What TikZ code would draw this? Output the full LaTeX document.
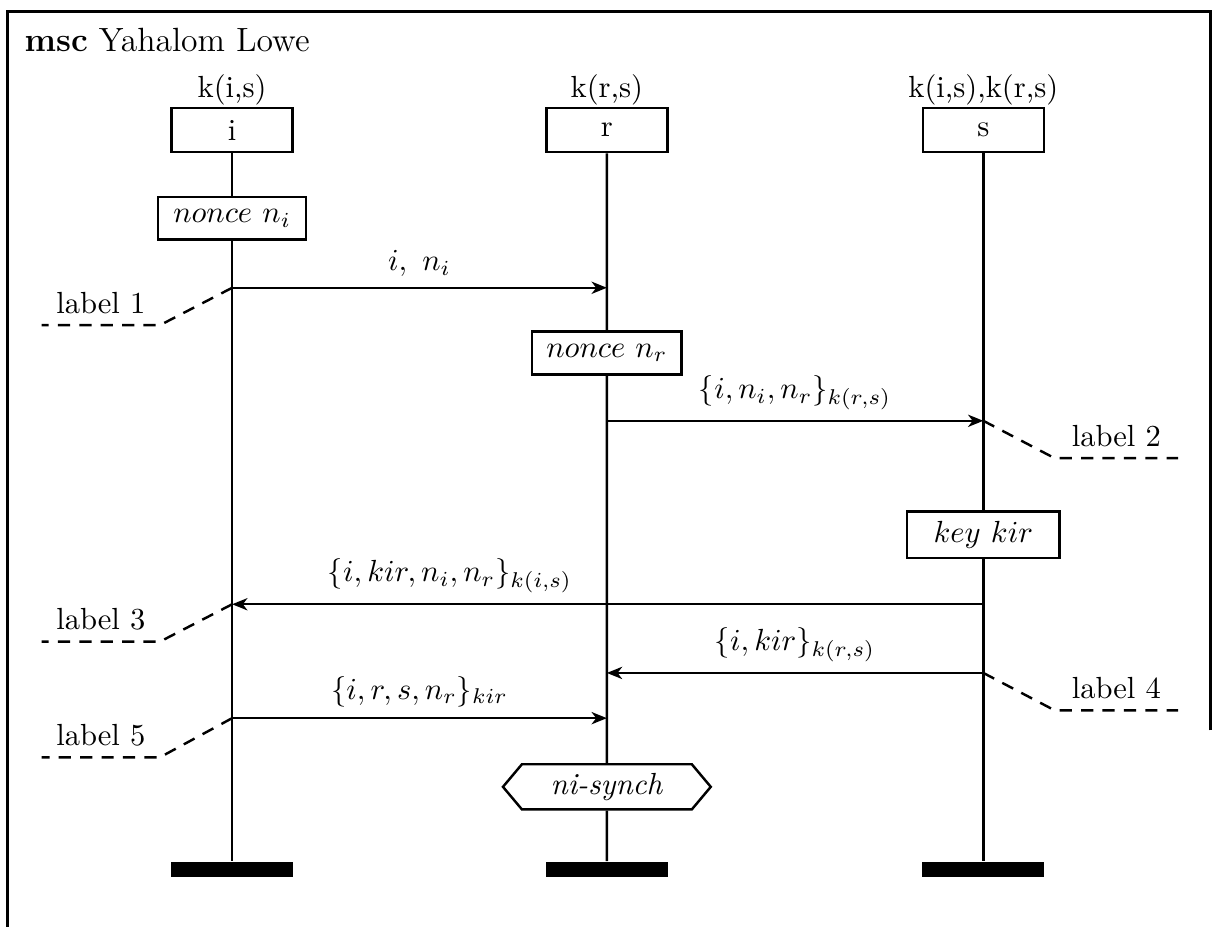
\documentclass[tikz,border=0pt]{standalone}
\usepackage{amsmath}
\usepackage{tikz}
\usetikzlibrary{arrows.meta,shapes.symbols,positioning}

\begin{document}
\begin{tikzpicture}[
  inst/.style={rectangle,draw,fill=white,line width=0.8pt,
               minimum width=1.39cm,minimum height=0.51cm,inner sep=2pt},
  action/.style={rectangle,draw,fill=white,line width=0.8pt,
                 minimum height=0.49cm,inner sep=3pt},
  cond/.style={signal,signal to=west and east,signal pointer angle=100,
               draw,fill=white,line width=0.8pt,
               minimum width=2.39cm,minimum height=0.52cm,inner sep=2pt},
  stop/.style={rectangle,fill=black,minimum width=1.40cm,
               minimum height=0.18cm,inner sep=0pt},
  life/.style={line width=0.8pt},
  msg/.style={-{Stealth[length=5pt,width=4pt,inset=1.5pt]},line width=0.8pt},
  lbl/.style={dashed,line width=0.8pt,dash pattern=on 4pt off 3pt},
  frame/.style={line width=0.9pt},
]
\useasboundingbox (0,0) rectangle (13.94,-10.66);

% Frame and title
\draw[frame] (13.92,-8.4) -- (13.92,-0.13) -- (0.09,-0.13) -- (0.09,-10.66);
\node[anchor=west,font=\fontsize{11}{13}\selectfont] (title) at (0.16,-0.46)
  {\textbf{msc} Yahalom Lowe};

% Instance heads with their keys
\node[inst] (headi) at (2.67, -1.495) {i};
\node[inst] (headr) at (6.98, -1.495) {r};
\node[inst] (heads) at (11.31,-1.495) {s};
\node (keyi) at (2.67, -1.035) {k(i,s)};
\node (keyr) at (6.98, -1.035) {k(r,s)};
\node (keys) at (11.31,-1.035) {k(i,s),k(r,s)};

% Actions and condition
\node[action,minimum width=1.70cm] (noncei) at (2.67, -2.51) {$nonce\ n_i$};
\node[action,minimum width=1.72cm] (noncer) at (6.98, -4.06) {$nonce\ n_r$};
\node[action,minimum width=1.75cm,minimum height=0.53cm] (keykir) at (11.31,-6.15) {$key\ kir$};
\node[cond] (synch) at (6.98,-9.05) {\textit{ni-synch}};

% Instance ends
\node[stop] (endi) at (2.67, -10.0) {};
\node[stop] (endr) at (6.98, -10.0) {};
\node[stop] (ends) at (11.31,-10.0) {};

% Lifelines
\draw[life] (headi) -- (noncei) -- (endi);
\draw[life] (headr) -- (noncer) -- (synch) -- (endr);
\draw[life] (heads) -- (keykir) -- (ends);

% Message end points on the lifelines
\coordinate (i1) at (2.67, -3.31);  \coordinate (r1) at (6.98, -3.31);
\coordinate (r2) at (6.98, -4.84);  \coordinate (s2) at (11.31,-4.84);
\coordinate (s3) at (11.31,-6.95);  \coordinate (i3) at (2.67, -6.95);
\coordinate (s4) at (11.31,-7.74);  \coordinate (r4) at (6.98, -7.74);
\coordinate (i5) at (2.67, -8.26);  \coordinate (r5) at (6.98, -8.26);

% Messages
\draw[msg] (i1) -- node[above]{$i,\ n_i$} (r1);
\draw[msg] (r2) -- node[above]{$\{i,n_i,n_r\}_{k(r,s)}$} (s2);
\draw[msg] (s3) -- node[pos=0.71,above]{$\{i,kir,n_i,n_r\}_{k(i,s)}$} (i3);
\draw[msg] (s4) -- node[above]{$\{i,kir\}_{k(r,s)}$} (r4);
\draw[msg] (i5) -- node[above]{$\{i,r,s,n_r\}_{kir}$} (r5);

% Labels, dashed off the message ends
\coordinate (l1a) at (1.84,-3.74);  \coordinate (l1b) at (0.48,-3.74);
\coordinate (l2a) at (12.13,-5.27); \coordinate (l2b) at (13.55,-5.27);
\coordinate (l3a) at (1.84,-7.38);  \coordinate (l3b) at (0.48,-7.38);
\coordinate (l4a) at (12.13,-8.17); \coordinate (l4b) at (13.55,-8.17);
\coordinate (l5a) at (1.84,-8.71);  \coordinate (l5b) at (0.48,-8.71);

\draw[lbl] (i1) -- (l1a) -- node[above]{label 1} (l1b);
\draw[lbl] (s2) -- (l2a) -- node[above]{label 2} (l2b);
\draw[lbl] (i3) -- (l3a) -- node[above]{label 3} (l3b);
\draw[lbl] (s4) -- (l4a) -- node[above]{label 4} (l4b);
\draw[lbl] (i5) -- (l5a) -- node[above]{label 5} (l5b);

\end{tikzpicture}
\end{document}
